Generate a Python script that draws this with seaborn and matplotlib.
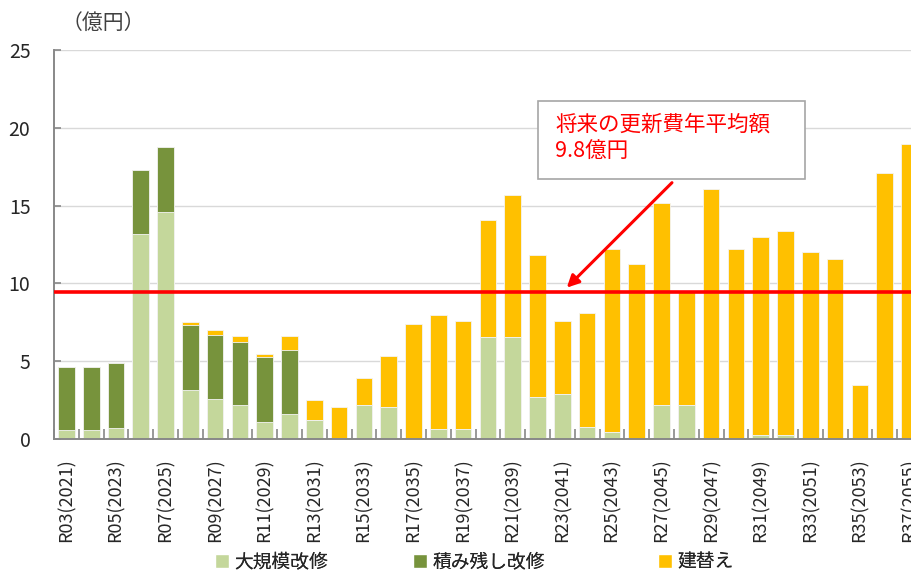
import matplotlib
matplotlib.use('Agg')
import matplotlib.pyplot as plt
import seaborn as sns
from matplotlib.patches import Patch, Rectangle

# categories (R03 .. R37)
years = [f'R{n:02d}({2018 + n})' for n in range(3, 38)]

# values (億円)
large_repair = [0.6, 0.6, 0.7, 13.2, 14.6, 3.15, 2.6, 2.2, 1.1, 1.6,
                1.2, 0.05, 2.2, 2.05, 0.0, 0.65, 0.65, 6.55, 6.55, 2.7,
                2.9, 0.8, 0.45, 0.0, 2.2, 2.2, 0.0, 0.0, 0.25, 0.25,
                0.0, 0.0, 0.0, 0.0, 0.0]
backlog_repair = [4.0, 4.05, 4.2, 4.1, 4.15, 4.2, 4.1, 4.05, 4.15, 4.1,
                  0, 0, 0, 0, 0, 0, 0, 0, 0, 0,
                  0, 0, 0, 0, 0, 0, 0, 0, 0, 0,
                  0, 0, 0, 0, 0]
rebuild = [0, 0, 0, 0, 0, 0.2, 0.3, 0.4, 0.2, 0.95,
           1.3, 2.0, 1.7, 3.3, 7.4, 7.35, 6.95, 7.5, 9.15, 9.1,
           4.7, 7.3, 11.75, 11.25, 12.97, 7.3, 16.07, 12.2, 12.75, 13.1,
           12.0, 11.6, 3.5, 17.1, 18.95]
avg_line = 9.45

series_names = ['大規模改修', '積み残し改修', '建替え']
colors = ['#C4D79B', '#77933C', '#FFC000']

sns.set_theme(style='white')
plt.rcParams['font.family'] = ['Noto Sans CJK JP', 'DejaVu Sans']

fig = plt.figure(figsize=(9.12, 5.72), dpi=100)
ax = fig.add_axes([54 / 912, 133 / 572, 858 / 912, 389 / 572])

# stacked bars drawn as cumulative totals, back to front
lvl1 = large_repair
lvl2 = [a + b for a, b in zip(large_repair, backlog_repair)]
lvl3 = [a + b for a, b in zip(lvl2, rebuild)]
for vals, col in [(lvl3, colors[2]), (lvl2, colors[1]), (lvl1, colors[0])]:
    sns.barplot(x=years, y=vals, color=col, width=0.67, ax=ax,
                edgecolor='#f4f4f4', linewidth=0.6, saturation=1)

ax.axhline(avg_line, color='#FF0000', lw=2.6, zorder=5)

ax.set_yticks([0, 5, 10, 15, 20, 25])
ax.yaxis.grid(True, color='#d9d9d9', lw=1)
ax.set_axisbelow(True)
ax.set_xticks(range(0, 35, 2))
ax.set_xticklabels(years[::2], rotation=90, fontsize=13)
ax.set_xticks([i + 0.5 for i in range(-1, 34)], minor=True)
# limits after the ticks, so set_xticks does not widen them
ax.set_xlim(-0.5, 34.1)
ax.set_ylim(0, 25)
ax.tick_params(axis='x', which='major', length=0, pad=14)
ax.tick_params(axis='x', which='minor', length=7, direction='in',
               color='#888888', width=1.2, bottom=True)
ax.tick_params(axis='y', length=5, direction='in', color='#888888',
               width=1.2, labelsize=14, pad=17, left=True)
for side in ['top', 'right']:
    ax.spines[side].set_visible(False)
for side in ['left', 'bottom']:
    ax.spines[side].set_color('#888888')
    ax.spines[side].set_linewidth(1.4)
ax.set_xlabel('')
ax.set_ylabel('')

fig.text(62 / 912, 1 - 23 / 572, '（億円）', fontsize=15, va='center',
         ha='left', color='#404040')

# annotation box
fig.patches.append(Rectangle((538 / 912, 1 - 179 / 572), 267 / 912, 78 / 572,
                             transform=fig.transFigure, facecolor='white',
                             edgecolor='#a6a6a6', lw=1.2, zorder=6))
fig.text(555 / 912, 1 - 125 / 572, '将来の更新費年平均額', color='#FF0000',
         fontsize=15.5, va='center', ha='left', zorder=7)
fig.text(555 / 912, 1 - 152 / 572, '9.8億円', color='#FF0000',
         fontsize=15.5, va='center', ha='left', zorder=7)
ax.annotate('', xy=(20.1, 9.6), xytext=(24.5, 16.6),
            arrowprops=dict(arrowstyle='-|>', color='#FF0000', lw=2.2,
                            mutation_scale=18), zorder=7)

# legend entries placed one by one, like the spread-out original
for c, n, xl in zip(colors, series_names, [215, 413, 658]):
    lg = fig.legend(handles=[Patch(facecolor=c, label=n)], loc='center left',
                    bbox_to_anchor=(xl / 912, 1 - 562 / 572), frameon=False,
                    fontsize=13.5, handlelength=0.75, handleheight=0.75,
                    handletextpad=0.3, borderpad=0, borderaxespad=0)
    fig.add_artist(lg)

fig.savefig('out.png', dpi=100)
